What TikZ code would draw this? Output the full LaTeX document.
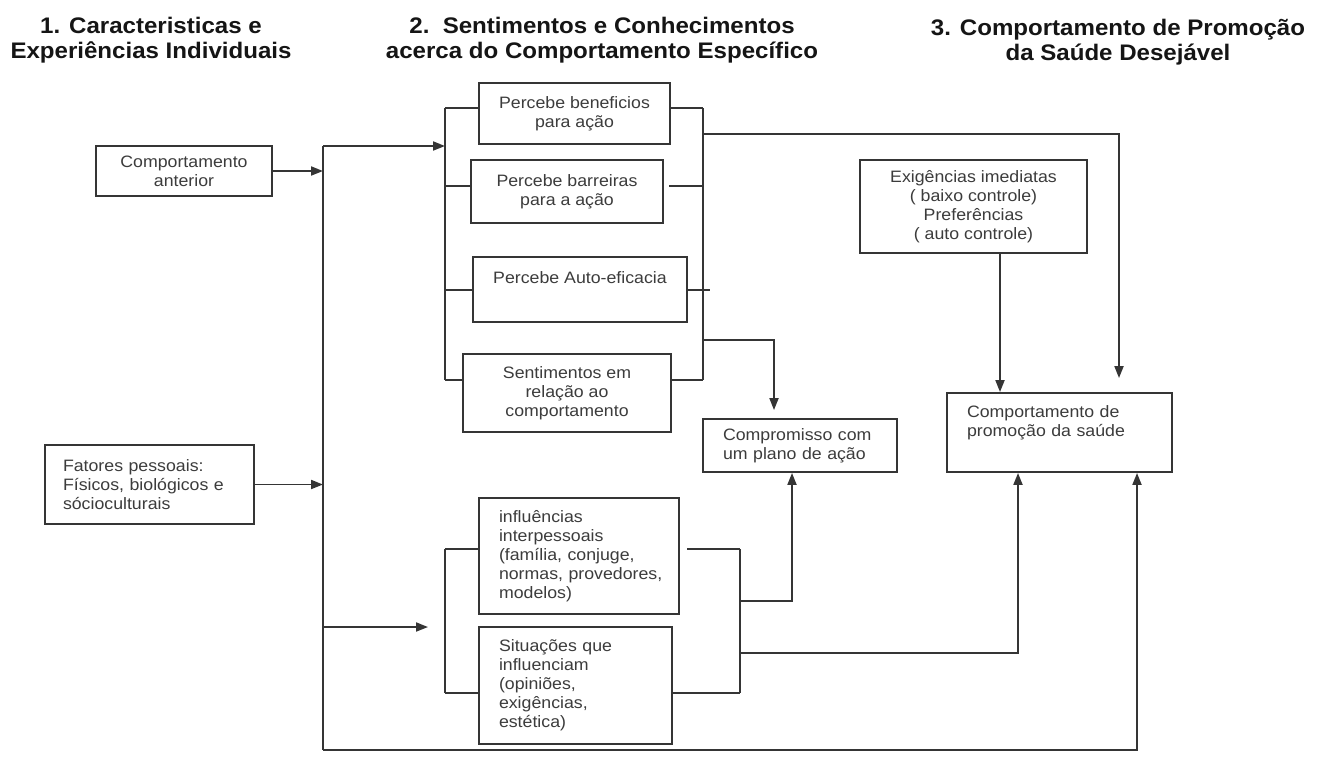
\documentclass[tikz,border=0pt]{standalone}
\usepackage{fontspec}
\setmainfont{Liberation Sans}
\newfontfamily\boxfont[FakeStretch=1.075]{Liberation Sans}
\newfontfamily\headfont[FakeStretch=1.07]{Liberation Sans}
\usetikzlibrary{arrows.meta}
\definecolor{linec}{HTML}{353535}
\definecolor{txtc}{HTML}{3C3C3C}
\definecolor{headc}{HTML}{151515}
\begin{document}
\begin{tikzpicture}[x=1pt,y=-1pt,
  conn/.style={draw=linec, line width=1.9pt},
  arr/.style={conn, -{Triangle[length=12pt,width=9pt]}},
  box/.style={draw=linec, line width=1.9pt, inner ysep=0pt, text=txtc,
    font=\boxfont\fontsize{16.5}{19}\selectfont},
  cbox/.style={box, align=center, inner xsep=0pt},
  lbox/.style={box, align=left, inner xsep=20pt},
  head/.style={font=\headfont\bfseries\fontsize{22.5}{24.5}\selectfont,
    align=center, inner sep=0pt, anchor=north, text=headc}
]
\useasboundingbox (0,0) rectangle (1324,756);
\fill[white] (0,0) rectangle (1324,756);

% headers
\node[head] (h1) at (151,17) {1. Caracteristicas e\\Experiências Individuais};
\node[head] (h2) at (602,17) {2.\ \ Sentimentos e Conhecimentos\\acerca do Comportamento Específico};
\node[head] (h3) at (1118,19) {3. Comportamento de Promoção\\da Saúde Desejável};

% boxes
\node[cbox, minimum width=176pt, minimum height=50pt] (ant) at (184,171) {Comportamento\\anterior};
\node[lbox, inner xsep=18pt, text width=173pt, minimum height=79pt] (fat) at (149.5,484.5)
  {\mbox{Fatores pessoais:}\\\mbox{Físicos, biológicos e}\\\mbox{sócioculturais}};
\node[cbox, minimum width=191pt, minimum height=61pt] (b1) at (574.5,113.5) {Percebe beneficios\\para ação};
\node[cbox, minimum width=192pt, minimum height=63pt] (b2) at (567,191.5) {Percebe barreiras\\para a ação};
\node[cbox, minimum width=214pt, minimum height=65pt] (b3) at (580,289.5) {Percebe Auto-eficacia\\[4pt]\mbox{}};
\node[cbox, minimum width=208pt, minimum height=78pt] (b4) at (567,393) {Sentimentos em\\relação ao\\comportamento};
\node[lbox, text width=154pt, minimum height=53pt] (comp) at (800,445.5)
  {\mbox{Compromisso com}\\\mbox{um plano de ação}};
\node[lbox, text width=160pt, minimum height=116pt] (infl) at (579,556)
  {\mbox{influências}\\\mbox{interpessoais}\\\mbox{(família, conjuge,}\\\mbox{normas, provedores,}\\\mbox{modelos)}};
\node[lbox, text width=153pt, minimum height=117pt] (sit) at (575.5,685.5)
  {\mbox{Situações que}\\\mbox{influenciam}\\\mbox{(opiniões,}\\\mbox{exigências,}\\\mbox{estética)}};
\node[cbox, minimum width=227pt, minimum height=93pt] (exig) at (973.5,206.5)
  {Exigências imediatas\\( baixo controle)\\Preferências\\( auto controle)};
\node[lbox, text width=185pt, minimum height=79pt] (promo) at (1059.5,432.5)
  {\mbox{Comportamento de}\\\mbox{promoção da saúde}\\[4pt]\mbox{}};

% coordinates
\coordinate (mainTop) at (323,146);
\coordinate (mainBot) at (323,750);
\coordinate (lbTop) at (445,108);
\coordinate (lbBot) at (445,380);
\coordinate (rbTop) at (703,108);
\coordinate (rbBot) at (703,380);
\coordinate (llTop) at (445,549);
\coordinate (llBot) at (445,693);
\coordinate (lrTop) at (740,549);
\coordinate (lrBot) at (740,693);
\coordinate (llIn) at (428,627);
\coordinate (tr1) at (703,134);
\coordinate (tr2) at (1119,134);
\coordinate (cm1) at (703,340);
\coordinate (cm2) at (774,340);
\coordinate (ia1) at (740,601);
\coordinate (ia2) at (792,601);
\coordinate (sa1) at (740,653);
\coordinate (sa2) at (1018,653);
\coordinate (bt2) at (1137,750);
\coordinate (ex1) at (1000,253);

% left main trunk
\draw[conn] (mainTop) -- (mainBot);
\draw[arr] (ant.east) -- (ant.east -| mainTop);
\draw[arr] (fat.east) -- (fat.east -| mainTop);
\draw[arr] (mainTop) -- (mainTop -| lbTop);
\draw[arr] (llIn -| mainTop) -- (llIn);

% upper bracket group
\draw[conn] (lbTop) -- (lbBot);
\draw[conn] (lbTop) -- (lbTop -| b1.west);
\draw[conn] (lbTop |- 0,186) -- (b2.west |- 0,186);
\draw[conn] (lbTop |- 0,290) -- (b3.west |- 0,290);
\draw[conn] (lbBot) -- (lbBot -| b4.west);
\draw[conn] (rbTop) -- (rbBot);
\draw[conn] (b1.east |- rbTop) -- (rbTop);
\draw[conn] (669,186) -- (rbTop |- 0,186);
\draw[conn] (b3.east |- 0,290) -- (710,290);
\draw[conn] (b4.east |- rbBot) -- (rbBot);

% lower bracket group
\draw[conn] (llTop) -- (llBot);
\draw[conn] (llTop) -- (llTop -| infl.west);
\draw[conn] (llBot) -- (llBot -| sit.west);
\draw[conn] (lrTop) -- (lrBot);
\draw[conn] (687,549) -- (lrTop);
\draw[conn] (lrBot -| sit.east) -- (lrBot);

% routes to outcomes
\draw[arr, shorten >=14pt] (tr1) -- (tr2) -- (tr2 |- promo.north);
\draw[arr, shorten >=8pt] (cm1) -- (cm2) -- (cm2 |- comp.north);
\draw[arr] (ex1) -- (ex1 |- promo.north);
\draw[arr] (ia1) -- (ia2) -- (ia2 |- comp.south);
\draw[arr] (sa1) -- (sa2) -- (sa2 |- promo.south);
\draw[arr] (mainBot) -- (bt2) -- (bt2 |- promo.south);
\end{tikzpicture}
\end{document}
